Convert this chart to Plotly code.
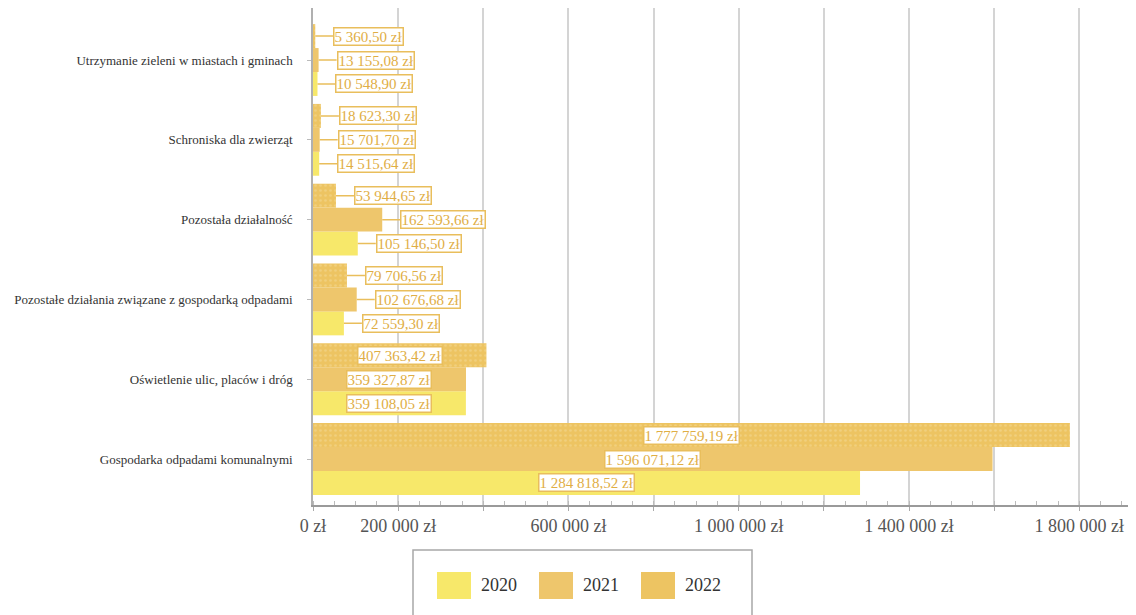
import plotly.graph_objects as go

# categories as read top-to-bottom in the reference
categories = [
    "Utrzymanie zieleni w miastach i gminach",
    "Schroniska dla zwierząt",
    "Pozostała działalność",
    "Pozostałe działania związane z gospodarką odpadami",
    "Oświetlenie ulic, placów i dróg",
    "Gospodarka odpadami komunalnymi",
]
years = ["2020", "2021", "2022"]
values_2020 = [10548.90, 14515.64, 105146.50, 72559.30, 359108.05, 1284818.52]
values_2021 = [13155.08, 15701.70, 162593.66, 102676.68, 359327.87, 1596071.12]
values_2022 = [5360.50, 18623.30, 53944.65, 79706.56, 407363.42, 1777759.19]

tick_values = [0, 200000, 400000, 600000, 800000, 1000000, 1200000, 1400000, 1600000, 1800000]
tick_labels = ["0 zł", "200 000 zł", "", "600 000 zł", "", "1 000 000 zł", "", "1 400 000 zł", "", "1 800 000 zł"]

colors = {"2020": "#F7E86A", "2021": "#EEC66C", "2022": "#EDC462"}
series = {"2020": values_2020, "2021": values_2021, "2022": values_2022}

cats_plot = categories[::-1]

def fmt(v):
    s = f"{v:,.2f}"
    ent, dec = s.split(".")
    return ent.replace(",", " ") + "," + dec + " zł"

SERIF = "Liberation Serif, DejaVu Serif, serif"
fig = go.Figure()
for yr in years:
    marker = dict(color=colors[yr], line=dict(width=0))
    if yr == "2022":
        marker["pattern"] = dict(shape=".", fgcolor="#F4DC9A", bgcolor=colors[yr], size=5, solidity=0.2)
    fig.add_trace(go.Bar(
        y=cats_plot, x=series[yr][::-1], name=yr, orientation="h",
        marker=marker, showlegend=False,
    ))

offsets = {"2020": -0.3, "2021": 0.0, "2022": 0.3}
label_color = "#DFAE45"
annotations = []
for yr in years:
    vals = series[yr][::-1]
    for i, v in enumerate(vals):
        common = dict(
            y=i + offsets[yr], yref="y", xref="x", text=fmt(v),
            font=dict(family=SERIF, size=15, color=label_color),
            bgcolor="white", bordercolor="#E9BE5C", borderwidth=1.5, borderpad=0,
        )
        if v >= 300000:
            annotations.append(dict(x=v / 2, showarrow=False, xanchor="center", **common))
        else:
            annotations.append(dict(x=v, showarrow=True, arrowhead=0, arrowwidth=1.5,
                                    arrowcolor="#E9BE5C", ax=18, ay=0, xanchor="left", **common))

# manual legend with large swatches (paper coordinates; plot area spans page x 313..1136, y 8..505)
L, W, B, H = 313, 823, 505, 497
def px(x):
    return (x - L) / W
def py(y):
    return (B - y) / H

shapes = [dict(type="rect", xref="paper", yref="paper", x0=px(413), x1=px(752), y0=py(628), y1=py(550),
               line=dict(color="#A8A8A8", width=1.5), fillcolor="white", layer="above")]
legend_x = {"2020": 437, "2021": 539, "2022": 641}
for yr in years:
    x0 = legend_x[yr]
    shapes.append(dict(type="rect", xref="paper", yref="paper", x0=px(x0), x1=px(x0 + 34),
                       y0=py(599), y1=py(572), line=dict(width=0), fillcolor=colors[yr], layer="above"))
    annotations.append(dict(xref="paper", yref="paper", x=px(x0 + 42), y=py(585), text=yr,
                            showarrow=False, xanchor="left", yanchor="middle",
                            font=dict(family=SERIF, size=18, color="#333")))

fig.update_layout(
    width=1128, height=607,
    margin=dict(l=305, r=0, t=0, b=110),
    paper_bgcolor="white", plot_bgcolor="white",
    barmode="group", bargap=0.1, bargroupgap=0,
    annotations=annotations, shapes=shapes,
    font=dict(family=SERIF, color="#333"),
    showlegend=False,
    xaxis=dict(
        range=[0, 1933000], tickvals=tick_values, ticktext=tick_labels,
        showgrid=True, gridcolor="#D4D4D4", gridwidth=1.5,
        showline=True, linecolor="#9A9A9A", linewidth=1.5,
        tickfont=dict(family=SERIF, size=18, color="#555"),
        ticks="outside", ticklen=4, tickcolor="#AAAAAA",
        minor=dict(dtick=50000, ticks="inside", ticklen=4, tickcolor="#BBBBBB", showgrid=False),
        zeroline=False, automargin=False,
    ),
    yaxis=dict(
        range=[-0.576, 5.652], showgrid=False,
        showline=True, linecolor="#B0B0B0", linewidth=1.5,
        ticks="outside", ticklen=4, tickcolor="#BBBBBB",
        tickfont=dict(family=SERIF, size=13, color="#333"),
        ticklabelstandoff=12, automargin=False,
    ),
)

fig.write_html("out.html")
